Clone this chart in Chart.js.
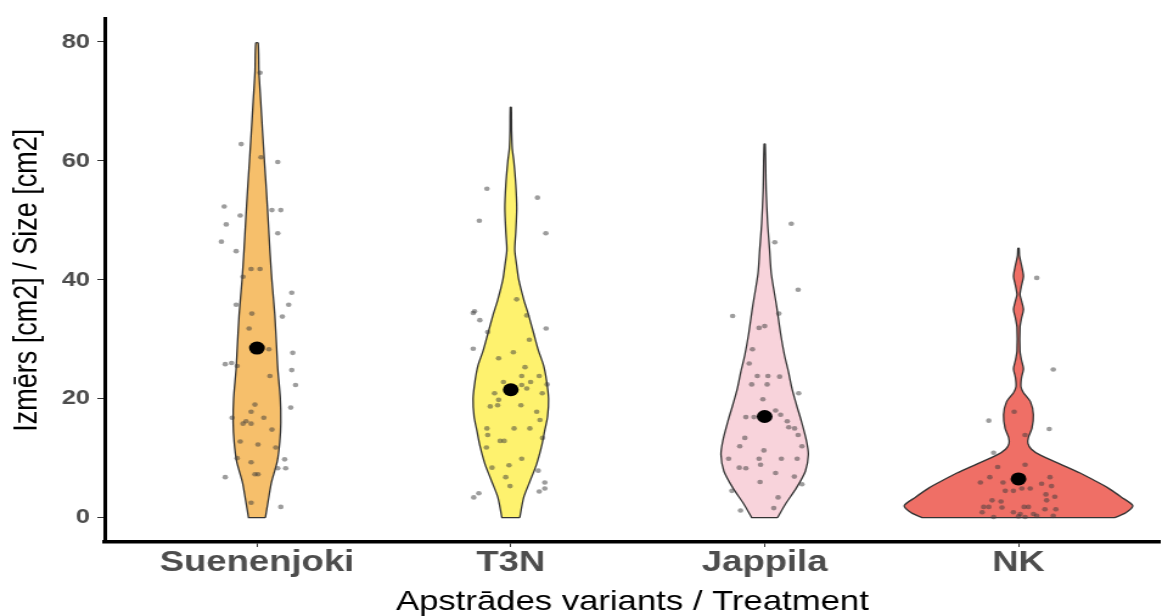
<!DOCTYPE html>
<html>
<head>
<meta charset="utf-8">
<script src="https://cdn.jsdelivr.net/npm/chart.js@4.4.1/dist/chart.umd.min.js"></script>
<style>
  html, body { margin: 0; padding: 0; background: #fff; overflow: hidden; }
  /* the original picture is stretched sideways, so draw narrow and widen */
  #stage { width: 960px; height: 616px; transform: scaleX(1.2167); transform-origin: 0 0; }
</style>
</head>
<body>
<div id="stage"><canvas id="violinChart" width="960" height="616"></canvas></div>
<script>
var treatments = ['Suenenjoki', 'T3N', 'Jappila', 'NK'];
var sizeTicks = [0, 20, 40, 60, 80];
var means = [28.5, 21.5, 17, 6.5];

// violin outlines: size level and relative density (widest = 115)
var suenenjokiLevels = [0, 3, 6, 9.5, 12.8, 16, 20, 25, 28, 34, 40, 45, 50, 55, 60, 65, 70, 75, 79.8];
var suenenjokiDensity = [8.5, 11.5, 14.7, 20.5, 23, 24, 23.5, 21, 20, 18, 15, 13, 11.3, 9.5, 7.5, 5.6, 3.8, 2, 1.2];
var t3nLevels = [0, 3.4, 6, 9, 12, 14.5, 17, 20, 23, 25.6, 28, 31, 34, 36.7, 40, 42.3, 45, 48, 52, 56, 60, 62, 65, 69];
var t3nDensity = [9, 13, 19, 26, 31, 34, 37, 38, 36, 33, 28, 23, 18, 13, 8, 6, 4, 5, 6, 5, 3, 1.5, 0.8, 0.5];
var jappilaLevels = [0, 2.3, 5, 7.8, 10.6, 13, 16.2, 19, 21.7, 24.5, 27.3, 31, 35.6, 41, 45, 49.5, 55, 62.8];
var jappilaDensity = [13, 21, 32, 41, 44, 42, 37, 32, 27.5, 24, 20, 16, 12, 6.7, 5, 3, 1.5, 0.5];
var nkLevels = [0, 0.8, 2, 3.4, 5, 6.2, 7.5, 9, 10.5, 11.5, 12.5, 13.5, 15, 17.3, 19.5, 21, 22, 23.5, 25, 26.5, 28, 32, 33.5, 35, 36.5, 37.5, 39, 40.6, 42.5, 44, 45.3];
var nkDensity = [97, 108, 115, 104, 90, 77, 62, 42, 22, 13, 9.5, 10, 13.5, 15, 12, 5, 2.5, 3, 5, 3, 1.5, 1.5, 3, 5, 3, 1.5, 3, 5, 3, 1, 0.5];

// single observations and their jitter
var suenenjokiSizes = [62.8, 59.8, 74.8, 60.6, 52.3, 49.3, 50.8, 51.7, 51.7, 47.8, 46.4, 44.8, 41.8, 41.8, 40.5, 37.8, 35.8, 35.8, 34.3, 33.8, 31.8, 28.3, 27.7, 25.8, 26, 25.5, 24.8, 23.8, 22.3, 18.5, 19, 17.8, 16.8, 16.8, 16.2, 15.8, 15.8, 14.8, 12.8, 12.3, 11.8, 10, 9.8, 9.3, 8.3, 8.3, 7.3, 7.3, 6.8, 2.5, 1.8];
var suenenjokiJitter = [-0.062, 0.082, 0.012, 0.016, -0.129, -0.121, -0.066, 0.059, 0.094, 0.082, -0.14, -0.082, -0.023, 0.012, -0.055, 0.137, -0.082, 0.125, -0.02, 0.1, -0.031, 0.047, 0.141, -0.125, -0.1, -0.078, 0.137, 0.051, 0.152, 0.133, -0.008, -0.023, -0.098, 0.027, -0.043, -0.023, -0.055, 0.059, -0.066, 0.004, 0.074, -0.078, 0.109, -0.023, 0.082, 0.113, -0.008, 0.004, -0.125, -0.023, 0.094];
var t3nSizes = [55.3, 53.8, 49.9, 47.8, 36.7, 34.7, 34.4, 33.2, 31.2, 34, 31.8, 29.9, 28.4, 26.8, 27.8, 25.3, 23.8, 23.8, 22.8, 22.3, 22.4, 22.8, 20.9, 21.7, 20.9, 19.8, 18.7, 18.9, 18.9, 17.8, 16.4, 15, 15, 15, 13.9, 12.9, 12.9, 13.4, 11.8, 9.9, 8.4, 8.8, 7.9, 6.8, 5.3, 5.9, 4.9, 4.4, 4.1, 3.4];
var t3nJitter = [-0.094, 0.105, -0.124, 0.138, 0.023, -0.143, -0.148, -0.122, -0.091, 0.063, 0.139, 0.073, -0.148, -0.048, 0.01, 0.056, 0.043, 0.112, 0.078, 0.043, 0.143, -0.029, -0.064, 0.063, 0.124, -0.048, -0.081, -0.052, 0.04, 0.102, 0.115, -0.094, 0.013, 0.075, -0.091, -0.042, -0.026, 0.125, -0.096, 0.043, -0.074, -0.007, 0.108, -0.02, -0.003, 0.134, 0.134, 0.112, -0.126, -0.146];
var jappilaSizes = [49.4, 46.3, 38.3, 33.9, 34.3, 31.9, 32.2, 28.3, 25.9, 23.8, 23.8, 23.7, 22.4, 22.4, 20.9, 19.9, 18, 16.9, 16.9, 17.3, 16.2, 15.2, 15, 13.9, 13.4, 12, 12, 11.3, 9.9, 9.9, 9.9, 9.9, 8.4, 8.3, 8.9, 7.5, 6.9, 6, 5.6, 4.5, 3.4, 1.2, 1.6];
var jappilaJitter = [0.105, 0.04, 0.132, -0.126, 0.056, -0.022, 0, -0.048, -0.061, -0.029, 0.013, 0.059, -0.051, 0.01, 0.134, -0.007, 0.043, -0.074, -0.042, 0.063, 0.089, 0.095, 0.118, 0.132, -0.078, -0.098, 0.147, -0.003, -0.142, -0.022, 0.066, 0.128, -0.1, -0.074, -0.016, 0.043, 0.117, -0.018, 0.147, -0.129, 0.053, -0.095, 0.036];
var nkSizes = [40.3, 24.9, 17.8, 16.3, 14.9, 13.9, 10.9, 8.9, 8.5, 6.8, 6.8, 5.9, 5.9, 5.7, 5.3, 4.9, 4.9, 4.5, 4.5, 3.9, 3.5, 2.9, 2.7, 2.9, 1.8, 1.8, 1.7, 1.8, 1.8, 1.4, 1.4, 0.9, 0.9, 0.6, 0.6, 0.2, 0.1, 0.3, 0.3, 0.1];
var nkJitter = [0.072, 0.137, -0.017, -0.117, 0.121, 0.026, -0.098, 0.026, -0.082, -0.113, 0.124, -0.15, -0.061, 0.091, 0.13, 0.013, 0.046, -0.052, -0.02, 0.108, 0.143, -0.104, -0.069, 0.111, -0.137, -0.117, -0.065, 0.022, 0.039, 0.104, 0.147, -0.143, -0.02, 0.007, 0.059, 0, 0.026, 0.137, 0.072, -0.098];

var violinColors = ['#F6BF6B', '#FEF26E', '#F8D3DB', '#EF6F66'];
var violinScale = 0.45 / 115;

var groups = [
    { levels: suenenjokiLevels, density: suenenjokiDensity, sizes: suenenjokiSizes, jitter: suenenjokiJitter },
    { levels: t3nLevels, density: t3nDensity, sizes: t3nSizes, jitter: t3nJitter },
    { levels: jappilaLevels, density: jappilaDensity, sizes: jappilaSizes, jitter: jappilaJitter },
    { levels: nkLevels, density: nkDensity, sizes: nkSizes, jitter: nkJitter }
];

// right side up, left side down; bottom corners doubled so the base stays flat
function outline(pos, g) {
    var right = g.levels.map(function (y, i) { return { x: pos + g.density[i] * violinScale, y: y }; });
    var left = g.levels.map(function (y, i) { return { x: pos - g.density[i] * violinScale, y: y }; }).reverse();
    return [right[0]].concat(right, left, [left[left.length - 1], right[0]]);
}

var datasets = [];
groups.forEach(function (g, i) {
    var pos = i + 1;
    datasets.push({
        data: outline(pos, g),
        showLine: true,
        fill: 'shape',
        backgroundColor: violinColors[i],
        borderColor: '#333333',
        borderWidth: 1.3,
        tension: 0.25,
        pointRadius: 0,
        order: 3
    });
    datasets.push({
        data: g.sizes.map(function (v, k) { return { x: pos + g.jitter[k], y: v }; }),
        pointRadius: 2.3,
        pointBorderWidth: 0,
        backgroundColor: 'rgba(60,60,60,0.5)',
        order: 2
    });
});
datasets.push({
    data: means.map(function (m, i) { return { x: i + 1, y: m }; }),
    pointRadius: 6.5,
    pointBorderWidth: 0,
    backgroundColor: '#000000',
    order: 1
});

var fontFamily = "'Liberation Sans', Arial, sans-serif";

var ctx = document.getElementById('violinChart').getContext('2d');
var myChart = new Chart(ctx, {
    type: 'scatter',
    data: { datasets: datasets },
    options: {
        responsive: false,
        animation: false,
        layout: { padding: { top: 15, left: 0, right: 0, bottom: 0 } },
        plugins: {
            legend: { display: false },
            tooltip: { enabled: false }
        },
        scales: {
            x: {
                type: 'linear',
                min: 0.4,
                max: 4.558,
                afterBuildTicks: function (scale) {
                    scale.ticks = treatments.map(function (t, i) { return { value: i + 1 }; });
                },
                afterFit: function (scale) { scale.height = 74; },
                ticks: {
                    autoSkip: false,
                    maxRotation: 0,
                    padding: 1,
                    color: '#4d4d4d',
                    font: { family: fontFamily, size: 30, weight: 'bold', lineHeight: 1 },
                    callback: function (value) { return treatments[value - 1]; }
                },
                grid: { drawOnChartArea: false, tickLength: 5, color: '#333333' },
                border: { color: '#000000', width: 3.5 },
                title: {
                    display: true,
                    text: 'Apstrādes variants / Treatment',
                    color: '#000000',
                    padding: { top: 0, bottom: 0 },
                    font: { family: fontFamily, size: 28.5, lineHeight: 1 }
                }
            },
            y: {
                min: -4.1,
                max: 83.9,
                afterBuildTicks: function (scale) {
                    scale.ticks = sizeTicks.map(function (v) { return { value: v }; });
                },
                afterFit: function (scale) { scale.width = 86; },
                ticks: {
                    padding: 6,
                    color: '#4d4d4d',
                    font: { family: fontFamily, size: 21, weight: 'bold' }
                },
                grid: { drawOnChartArea: false, tickLength: 6, color: '#333333' },
                border: { color: '#000000', width: 3 },
                title: {
                    display: true,
                    text: 'Izmērs [cm2] / Size [cm2]',
                    color: '#000000',
                    padding: { top: 9.5, bottom: 0 },
                    font: { family: fontFamily, size: 27, lineHeight: 1 }
                }
            }
        }
    }
});
</script>
</body>
</html>
